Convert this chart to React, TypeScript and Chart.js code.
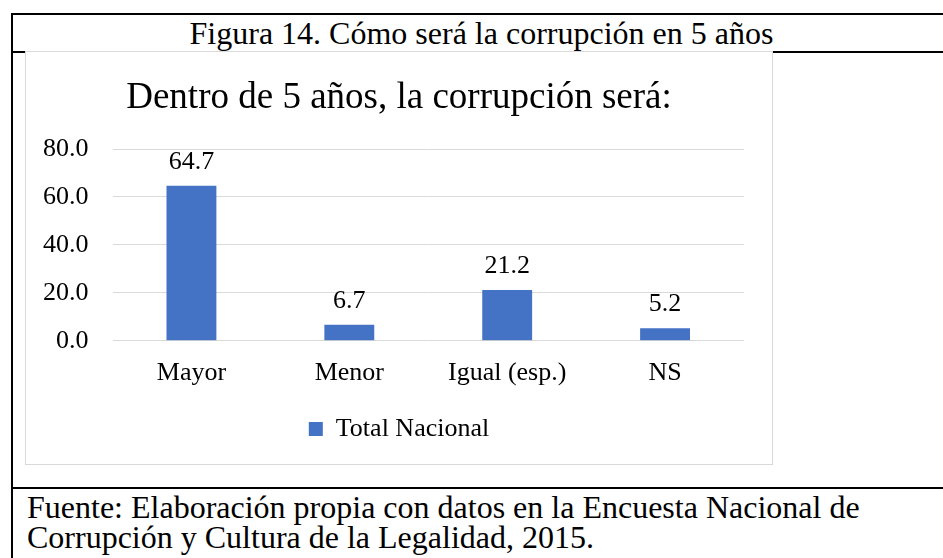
import React, { useEffect, useRef } from "react";
import { Chart, registerables } from "chart.js";

Chart.register(...registerables);

const figureCaption = "Figura 14. Cómo será la corrupción en 5 años";
const chartTitle = "Dentro de 5 años, la corrupción será:";
const categories = ["Mayor", "Menor", "Igual (esp.)", "NS"];
const seriesName = "Total Nacional";
const values = [64.7, 6.7, 21.2, 5.2];
const yMin = 0;
const yMax = 80;
const yStep = 20;
const sourceLines = [
  "Fuente: Elaboración propia con datos en la Encuesta Nacional de",
  "Corrupción y Cultura de la Legalidad, 2015.",
];

const FONT = "'Liberation Serif', 'Times New Roman', Times, serif";
const BAR_COLOR = "#4472C4";
const GRID_COLOR = "#d9d9d9";
const TEXT_COLOR = "#000000";

const valueLabels = {
  id: "valueLabels",
  afterDatasetsDraw(chart: any) {
    const ctx = chart.ctx;
    const meta = chart.getDatasetMeta(0);
    const data = chart.data.datasets[0].data as number[];
    ctx.save();
    ctx.font = `26px ${FONT}`;
    ctx.fillStyle = TEXT_COLOR;
    ctx.textAlign = "center";
    ctx.textBaseline = "alphabetic";
    meta.data.forEach((el: any, i: number) => {
      const p = el.getProps(["x", "y"], true);
      ctx.fillText(Number(data[i]).toFixed(1), p.x, p.y - 17);
    });
    ctx.restore();
  },
};

// Chart title centred on the whole chart box (as in the office chart)
const centeredTitle = {
  id: "centeredTitle",
  afterDraw(chart: any) {
    const ctx = chart.ctx;
    ctx.save();
    ctx.font = `37px ${FONT}`;
    ctx.fillStyle = TEXT_COLOR;
    ctx.textAlign = "center";
    ctx.textBaseline = "alphabetic";
    ctx.fillText(chartTitle, chart.width / 2, 55.5);
    ctx.restore();
  },
};

// Centre the legend row on the whole chart box rather than the padded area
const centerLegend = {
  id: "centerLegend",
  afterLayout(chart: any) {
    const lg = chart.legend;
    if (lg) {
      lg.left = 0;
      lg.right = chart.width;
      lg.width = chart.width;
    }
  },
};

function BarChart() {
  const ref = useRef<HTMLCanvasElement | null>(null);
  useEffect(() => {
    if (!ref.current) return;
    const chart = new Chart(ref.current, {
      type: "bar",
      data: {
        labels: categories,
        datasets: [
          {
            label: seriesName,
            data: values,
            backgroundColor: BAR_COLOR,
            borderWidth: 0,
            categoryPercentage: 1,
            barPercentage: 0.316,
          },
        ],
      },
      options: {
        responsive: false,
        animation: false,
        events: [],
        devicePixelRatio: 1,
        layout: { padding: { left: -7, right: 28, top: 97, bottom: 12 } },
        plugins: {
          title: { display: false },
          legend: {
            display: true,
            position: "bottom",
            labels: {
              color: TEXT_COLOR,
              font: { family: FONT, size: 26 },
              boxWidth: 14,
              boxHeight: 14,
              padding: 10,
            },
          },
          tooltip: { enabled: false },
        },
        scales: {
          x: {
            grid: { display: false, drawTicks: false },
            border: { display: false },
            ticks: {
              color: TEXT_COLOR,
              font: { family: FONT, size: 26 },
              padding: 17,
              maxRotation: 0,
            },
          },
          y: {
            min: yMin,
            max: yMax,
            grid: { color: GRID_COLOR, lineWidth: 1, drawTicks: false },
            border: { display: false },
            ticks: {
              stepSize: yStep,
              color: TEXT_COLOR,
              font: { family: FONT, size: 26 },
              padding: 24,
              callback: (v: any) => Number(v).toFixed(1),
            },
          },
        },
      },
      plugins: [valueLabels, centeredTitle, centerLegend],
    });
    return () => chart.destroy();
  }, []);
  return <canvas ref={ref} width={746} height={412} style={{ display: "block", width: 746, height: 412 }} />;
}

export default function App() {
  const line = (style: React.CSSProperties) => (
    <div style={{ position: "absolute", background: "#000", ...style }} />
  );
  return (
    <div style={{ position: "relative", width: 943, height: 558, overflow: "hidden", background: "#fff", fontFamily: FONT, color: TEXT_COLOR }}>
      <style>{`body{margin:0;overflow:hidden;background:#fff}`}</style>
      {line({ left: 11, top: 13, width: 960, height: 2 })}
      {line({ left: 11, top: 13, width: 2, height: 600 })}
      {line({ left: 11, top: 51, width: 960, height: 2 })}
      {line({ left: 11, top: 487, width: 960, height: 2 })}
      <div
        style={{
          position: "absolute",
          left: 11,
          top: 14.5,
          width: 941,
          textAlign: "center",
          fontSize: 32,
          lineHeight: "36px",
          whiteSpace: "nowrap",
        }}
      >
        {figureCaption}
      </div>
      <div
        style={{
          position: "absolute",
          left: 25,
          top: 51,
          width: 748,
          height: 414,
          boxSizing: "border-box",
          border: `1px solid ${GRID_COLOR}`,
          background: "#fff",
        }}
      >
        <BarChart />
      </div>
      <div
        style={{
          position: "absolute",
          left: 27,
          top: 491.5,
          fontSize: 32,
          lineHeight: "30px",
          whiteSpace: "nowrap",
        }}
      >
        {sourceLines.map((s, i) => (
          <div key={i}>{s}</div>
        ))}
      </div>
    </div>
  );
}
